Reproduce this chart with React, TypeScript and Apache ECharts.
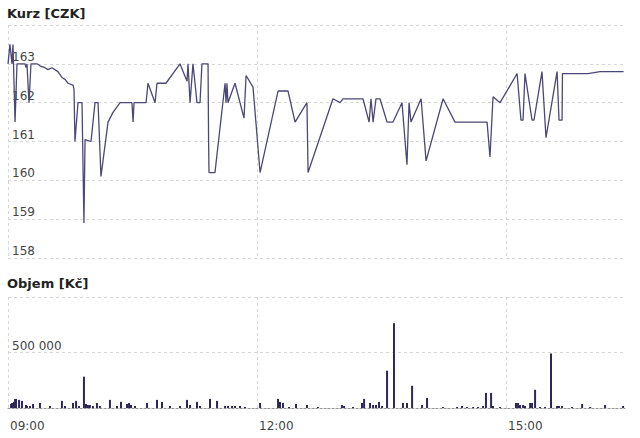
import React, { useEffect, useRef } from 'react';
import * as echarts from 'echarts';

// minutes after 09:00 and price in CZK
const priceMinutes = [
  0, 1.4, 2.9, 3.6, 5.1, 6.5, 12.3, 13.0, 13.7, 15.2, 16.6, 21.0, 23.1, 26.7, 28.9, 31.8, 36.1, 39.0, 41.2, 43.4,
  47.0, 47.7, 48.4, 50.6, 53.5, 54.9, 55.7, 60.0, 62.9, 65.1, 67.2, 72.3, 75.9, 81.0, 89.6, 90.4, 91.1, 99.8, 101.2, 106.3,
  107.7, 114.2, 124.3, 129.4, 130.1, 131.6, 133.7, 135.2, 136.6, 138.8, 140.2, 144.6, 145.0, 145.3, 149.6, 156.9, 157.6, 158.3, 159.0, 164.1,
  170.6, 172.1, 177.1, 182.2, 195.2, 202.4, 207.5, 216.1, 216.9, 234.9, 240.0, 242.2, 256.6, 261.0, 262.4, 263.9, 266.0, 268.9, 274.0, 278.3,
  284.8, 288.4, 289.9, 291.3, 298.6, 302.2, 314.5, 323.1, 346.3, 348.4, 350.6, 355.7, 368.0, 370.8, 372.3, 373.7, 378.8, 380.2, 386.0, 388.9,
  396.9, 398.3, 400.5, 400.8, 419.3, 428.0, 445.0,
];
const prices = [
  163.0, 163.5, 163.0, 163.5, 161.5, 163.0, 163.0, 162.9, 163.0, 162.0, 163.0, 163.0, 162.95, 162.9, 162.85, 162.9, 162.8, 162.65, 162.6, 162.5,
  162.45, 162.35, 161.0, 162.0, 162.0, 158.9, 161.05, 161.0, 162.0, 162.0, 160.1, 161.5, 161.75, 162.0, 162.0, 161.5, 162.0, 162.0, 162.5, 162.0,
  162.5, 162.5, 163.0, 162.55, 163.0, 162.0, 163.0, 162.5, 162.0, 162.0, 163.0, 163.0, 161.0, 160.2, 160.2, 162.5, 162.0, 162.5, 162.0, 162.5,
  161.6, 162.7, 162.4, 160.2, 162.3, 162.3, 161.5, 162.0, 160.2, 162.1, 162.0, 162.1, 162.1, 161.5, 162.1, 161.5, 162.1, 162.1, 161.5, 161.5,
  162.0, 160.4, 162.0, 161.5, 162.1, 160.5, 162.1, 161.5, 161.5, 160.6, 162.15, 162.0, 162.75, 161.55, 161.55, 162.75, 161.55, 161.55, 162.8, 161.1,
  162.8, 161.55, 161.55, 162.75, 162.75, 162.8, 162.8,
];

// minutes after 09:00 and traded volume in Kč
const volumeMinutes = [
  2.2, 2.9, 3.6, 4.3, 5.1, 5.8, 8.0, 10.1, 13.0, 13.7, 15.9, 18.1, 23.1, 30.4, 39.0, 41.2, 47.0, 49.2, 51.3, 54.9,
  56.4, 57.8, 59.2, 61.4, 64.3, 66.4, 73.7, 78.8, 81.7, 86.0, 87.5, 88.9, 91.8, 100.5, 107.7, 111.3, 117.1, 124.3, 129.4, 131.6,
  136.6, 138.8, 146.0, 151.1, 156.9, 159.0, 161.9, 164.1, 167.7, 171.3, 182.2, 195.2, 196.6, 198.8, 203.1, 208.2, 216.1, 224.1, 241.4, 242.9,
  249.4, 255.9, 257.4, 261.7, 263.9, 266.0, 268.2, 270.4, 274.0, 279.0, 285.5, 288.4, 292.1, 299.3, 302.9, 314.5, 324.6, 328.2, 331.8, 336.2,
  339.8, 343.4, 345.5, 349.2, 350.6, 355.7, 367.2, 368.7, 370.1, 372.3, 373.7, 377.4, 378.8, 381.0, 384.6, 388.2, 392.5, 396.9, 398.3, 400.5,
  407.7, 415.0, 420.8, 431.6, 444.6,
];
const volumes = [
  36000, 45000, 45000, 55000, 82000, 82000, 73000, 64000, 27000, 18000, 18000, 36000, 45000, 18000, 64000, 18000, 45000, 64000, 18000, 282000,
  36000, 27000, 27000, 18000, 45000, 18000, 73000, 18000, 55000, 36000, 45000, 27000, 18000, 45000, 73000, 55000, 18000, 18000, 73000, 27000,
  55000, 18000, 82000, 64000, 18000, 18000, 18000, 18000, 18000, 9000, 45000, 82000, 55000, 45000, 9000, 36000, 27000, 9000, 27000, 18000,
  9000, 45000, 82000, 45000, 27000, 27000, 55000, 18000, 336000, 764000, 45000, 45000, 200000, 27000, 91000, 9000, 9000, 18000, 9000, 9000,
  9000, 18000, 136000, 136000, 18000, 9000, 45000, 45000, 27000, 27000, 18000, 45000, 45000, 164000, 9000, 9000, 491000, 18000, 18000, 18000,
  9000, 36000, 9000, 27000, 18000,
];

const timeTickLabels = ['09:00', '12:00', '15:00'];
const priceRange = [158, 164];
const volumeRange = [0, 1000000];

const SESSION_START = 540; // 09:00 in minutes
const SESSION_END = 986;

const FONT = 'DejaVu Sans';

export default function App() {
  const ref = useRef<HTMLDivElement>(null);
  useEffect(() => {
    if (!ref.current) return;
    const chart = echarts.init(ref.current, null, { renderer: 'svg' });
    const fmtTime = (v: number) => {
      const h = Math.floor(v / 60);
      const m = Math.round(v % 60);
      const s = `${String(h).padStart(2, '0')}:${String(m).padStart(2, '0')}`;
      return timeTickLabels.includes(s) ? s : '';
    };
    const gridLine = { show: true, lineStyle: { type: [3, 3], color: '#d6d6d6', width: 1 } };
    const labelStyle = { fontFamily: FONT, fontSize: 12, color: '#444' };
    const titleStyle = { fontFamily: FONT, fontSize: 13, fontWeight: 'bold', color: '#222' };
    chart.setOption({
      animation: false,
      backgroundColor: '#fff',
      title: [
        { text: 'Kurz [CZK]', left: 7, top: 7, padding: 0, textStyle: titleStyle },
        { text: 'Objem [Kč]', left: 7, top: 277, padding: 0, textStyle: titleStyle },
      ],
      grid: [
        { left: 8, right: 15, top: 25, height: 233 },
        { left: 8, right: 15, top: 297, height: 111 },
      ],
      xAxis: [
        {
          gridIndex: 0, type: 'value', min: SESSION_START, max: SESSION_END, interval: 180,
          axisLine: { show: false }, axisTick: { show: false }, axisLabel: { show: false },
          splitLine: { ...gridLine, showMaxLine: false },
        },
        {
          gridIndex: 1, type: 'value', min: SESSION_START, max: SESSION_END, interval: 180,
          axisLine: { show: true, onZero: false, lineStyle: { color: '#999', type: [2, 2] } },
          axisTick: { show: false },
          axisLabel: { ...labelStyle, formatter: fmtTime, align: 'left', margin: 12, padding: [0, 0, 0, 2], showMaxLabel: false },
          splitLine: { ...gridLine, showMaxLine: false },
        },
      ],
      yAxis: [
        {
          gridIndex: 0, type: 'value', min: priceRange[0], max: priceRange[1], interval: 1,
          axisLine: { show: false }, axisTick: { show: false },
          axisLabel: { ...labelStyle, inside: true, margin: 4, verticalAlign: 'bottom', padding: [0, 0, 1, 0], showMaxLabel: false },
          splitLine: gridLine,
        },
        {
          gridIndex: 1, type: 'value', min: volumeRange[0], max: volumeRange[1], interval: 500000,
          axisLine: { show: false }, axisTick: { show: false },
          axisLabel: {
            ...labelStyle, inside: true, margin: 4, verticalAlign: 'bottom', padding: [0, 0, 1, 0],
            formatter: (v: number) => (v === 500000 ? '500 000' : ''),
          },
          splitLine: gridLine,
        },
      ],
      series: [
        {
          type: 'line', xAxisIndex: 0, yAxisIndex: 0, showSymbol: false,
          lineStyle: { color: '#4a4877', width: 1.3 },
          data: priceMinutes.map((m, i) => [SESSION_START + m, prices[i]]),
        },
        {
          type: 'bar', xAxisIndex: 1, yAxisIndex: 1, barWidth: 2,
          itemStyle: { color: '#2d2759' },
          data: volumeMinutes.map((m, i) => [SESSION_START + m, volumes[i]]),
        },
      ],
    });
    return () => chart.dispose();
  }, []);
  return <div ref={ref} style={{ position: 'fixed', left: 0, top: 0, width: 640, height: 438, background: '#fff' }} />;
}
